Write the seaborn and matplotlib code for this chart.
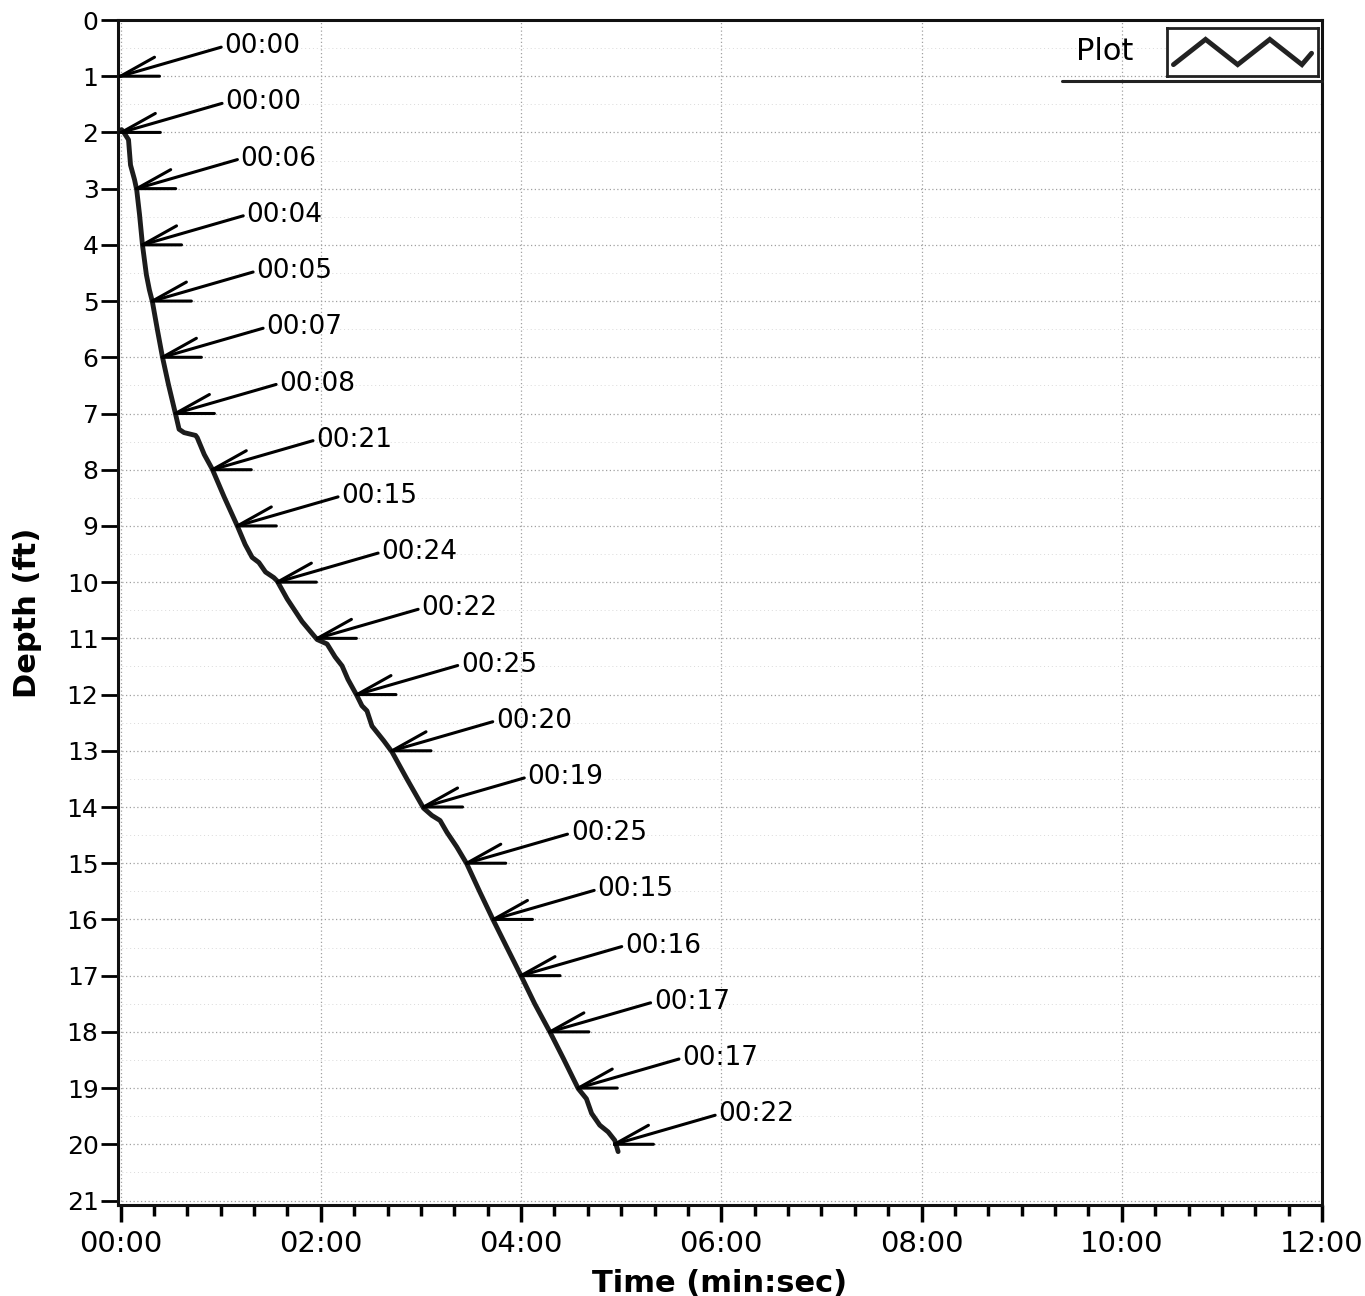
import numpy as np
import pandas as pd
import matplotlib.pyplot as plt
import seaborn as sns
from matplotlib.ticker import FuncFormatter, MultipleLocator
from matplotlib.lines import Line2D

# Depth trace (time in seconds, depth in ft)
trace_time = [0.6, 1.8, 4.8, 6.0, 8.4, 9.7, 11.4, 13.2, 15.5, 17.3, 19.1, 22.1, 25.1,
              28.7, 32.9, 35.1, 38.1, 45.0, 46.0, 50.2, 55.0, 62.2, 70.0, 74.7, 78.9,
              82.9, 86.9, 91.9, 93.9, 99.9, 108.8, 117.8, 123.8, 128.6, 132.8, 136.3,
              141.7, 144.7, 147.7, 150.7, 157.7, 162.7, 171.6, 181.6, 186.6, 191.5,
              195.6, 201.5, 207.5, 215.3, 223.5, 231.4, 240.0, 248.2, 257.3, 265.5,
              274.3, 279.2, 282.3, 287.2, 292.2, 296.2, 298.2]
trace_depth = [1.95, 1.99, 2.13, 2.58, 2.84, 3.02, 3.46, 4.01, 4.53, 4.80, 5.01, 5.51, 5.99,
               6.48, 7.00, 7.28, 7.34, 7.39, 7.43, 7.73, 7.99, 8.49, 9.00, 9.33, 9.56,
               9.65, 9.82, 9.92, 9.98, 10.30, 10.70, 11.02, 11.10, 11.33, 11.49, 11.73,
               12.02, 12.20, 12.29, 12.56, 12.82, 13.02, 13.50, 14.02, 14.15, 14.24,
               14.45, 14.71, 15.01, 15.51, 16.02, 16.49, 17.00, 17.50, 18.00, 18.48,
               19.01, 19.19, 19.45, 19.66, 19.78, 19.93, 20.13]

# Marker arrows: where each foot is reached and the split time label
mark_depth = list(range(1, 21))
mark_time = [0, 0.5, 9.7, 13.2, 19.1, 25.1, 32.9, 55.0, 70.0, 94.0, 118.0, 141.7,
             162.7, 181.6, 207.5, 223.5, 240.0, 257.3, 274.3, 296.0]
split_sec = [0, 0, 6, 4, 5, 7, 8, 21, 15, 24, 22, 25, 20, 19, 25, 15, 16, 17, 17, 22]

# legend icon zigzag
icon_x = [0, 1, 2, 3, 4, 4.3]
icon_y = [0, 1, 0, 1, 0, 0.45]


def mmss(s, pos=None):
    s = int(round(s))
    return f"{s // 60:02d}:{s % 60:02d}"


sns.set_style('white')
plt.rcParams['font.family'] = ['DejaVu Sans']
plt.rcParams['text.color'] = 'black'
plt.rcParams['xtick.color'] = 'black'
plt.rcParams['ytick.color'] = 'black'
plt.rcParams['axes.labelcolor'] = 'black'

fig = plt.figure(figsize=(13.65, 12.96), dpi=100)
ax = fig.add_axes([118 / 1365, 1 - 1205 / 1296, (1322 - 118) / 1365, (1205 - 20) / 1296])

df = pd.DataFrame({'time': trace_time, 'depth': trace_depth})
sns.lineplot(data=df, x='time', y='depth', sort=False, color='#1c1c1c', lw=3.5, ax=ax)

# arrows with split labels
for t, d, s in zip(mark_time, mark_depth, split_sec):
    ax.annotate(mmss(s), xy=(t, d), xytext=(104, 30), textcoords='offset pixels',
                ha='left', va='center', fontsize=19,
                arrowprops=dict(arrowstyle='-', lw=2.2, color='black',
                                shrinkA=0, shrinkB=0, relpos=(0, 0.5)))
    for off in [(39, 0), (34, 19)]:
        ax.annotate('', xy=(t, d), xytext=off, textcoords='offset pixels',
                    arrowprops=dict(arrowstyle='-', lw=2.2, color='black',
                                    shrinkA=0, shrinkB=0))

ax.set_xlim(-1.5, 720)
ax.set_ylim(21.08, 0)
ax.xaxis.set_major_locator(MultipleLocator(120))
ax.xaxis.set_minor_locator(MultipleLocator(20))
ax.xaxis.set_major_formatter(FuncFormatter(mmss))
ax.yaxis.set_major_locator(MultipleLocator(1))
ax.yaxis.set_minor_locator(MultipleLocator(0.5))

ax.grid(which='major', axis='both', color='#a0a0a0', lw=0.9, ls=(0, (1, 2)))
ax.grid(which='minor', axis='y', color='#dadada', lw=0.7, ls=(0, (1, 3)))

ax.tick_params(axis='x', which='major', length=12, width=2.5, labelsize=21, pad=6,
               bottom=True, direction='out')
ax.tick_params(axis='x', which='minor', length=8, width=2.5, bottom=True, direction='out')
ax.tick_params(axis='y', which='major', length=12, width=2, labelsize=18, pad=2,
               left=True, direction='out')
ax.tick_params(axis='y', which='minor', length=0)

for sp in ax.spines.values():
    sp.set_visible(True)
    sp.set_color('#111111')
    sp.set_linewidth(2.2)

ax.set_xlabel('Time (min:sec)', fontsize=22, fontweight='bold', labelpad=8)
ax.set_ylabel('Depth (ft)', fontsize=22, fontweight='bold', labelpad=18)

# legend: "Plot" + boxed zigzag icon, underline
fig.text(1076 / 1365, 1 - 52 / 1296, 'Plot', fontsize=22, ha='left', va='center')
icon = fig.add_axes([1167 / 1365, 1 - 76 / 1296, 151 / 1365, 48 / 1296])
icon.plot(icon_x, icon_y, color='#222222', lw=3.5, solid_joinstyle='miter')
icon.set_xlim(-0.2, 4.5)
icon.set_ylim(-0.45, 1.45)
icon.set_xticks([])
icon.set_yticks([])
for sp in icon.spines.values():
    sp.set_visible(True)
    sp.set_color('#222222')
    sp.set_linewidth(2)
fig.add_artist(Line2D([1062 / 1365, 1322 / 1365], [1 - 81 / 1296, 1 - 81 / 1296],
                      color='#222222', lw=2.2))

fig.savefig('out.png', dpi=100)
